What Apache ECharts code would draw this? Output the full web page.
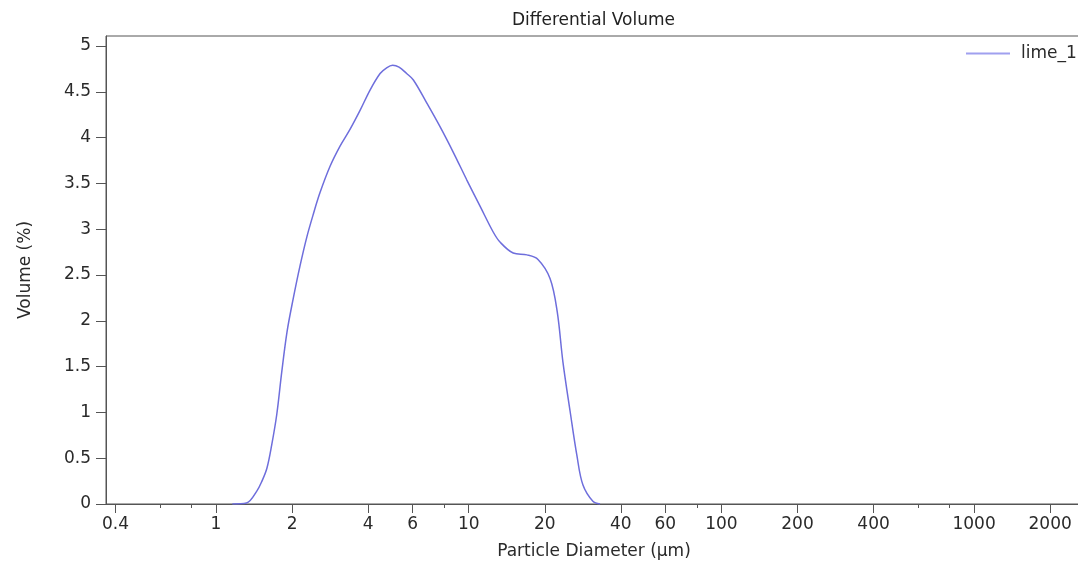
<!DOCTYPE html>
<html>
<head>
<meta charset="utf-8">
<script src="https://cdn.jsdelivr.net/npm/echarts@6/dist/echarts.min.js"></script>
<style>
html,body{margin:0;padding:0;background:#fff;overflow:hidden;width:1078px;height:565px;}
#chart{width:1090px;height:565px;}
</style>
</head>
<body>
<div id="chart"></div>
<script>
// Data
const seriesName = 'lime_1';
const diameters = [1.16, 1.32, 1.45, 1.52, 1.59, 1.66, 1.74, 1.82, 1.91, 2.02, 2.15, 2.29, 2.43, 2.58, 2.83, 3.10, 3.39, 3.72, 4.07, 4.46, 4.72, 5.00, 5.30, 5.68, 6.04, 6.82, 7.70, 8.69, 9.82, 11.1, 12.5, 13.3, 15.0, 17.0, 18.8, 21.0, 22.4, 23.6, 25.2, 26.8, 28.3, 31.0, 33.1];
const volumes   = [0.00, 0.01, 0.14, 0.25, 0.39, 0.64, 0.98, 1.44, 1.88, 2.24, 2.60, 2.92, 3.17, 3.40, 3.69, 3.91, 4.09, 4.30, 4.52, 4.70, 4.76, 4.79, 4.77, 4.70, 4.63, 4.38, 4.12, 3.84, 3.54, 3.25, 2.97, 2.86, 2.74, 2.72, 2.67, 2.46, 2.10, 1.55, 1.01, 0.53, 0.21, 0.03, 0.00];
const xTickLabels = [0.4, 1, 2, 4, 6, 10, 20, 40, 60, 100, 200, 400, 1000, 2000];
const xMinorTicks = [0.6, 0.8, 8, 80, 600, 800];
const yTickLabels = [0, 0.5, 1, 1.5, 2, 2.5, 3, 3.5, 4, 4.5, 5];
const xMin = 0.367, xMax = 2673;
const yMin = 0, yMax = 5.11;

const font = 'DejaVu Sans, Verdana, sans-serif';
const fontSize = 17;
const textColor = '#2a2a2a';
const axisColor = '#555';
const lineColor = '#6e6edc';

const chart = echarts.init(document.getElementById('chart'), null, {renderer: 'canvas'});
const points = diameters.map((d, i) => [d, volumes[i]]);

chart.setOption({
  animation: false,
  backgroundColor: '#fff',
  title: {
    text: 'Differential Volume',
    left: 512,
    top: 12,
    padding: 0,
    textStyle: {fontFamily: font, fontSize: fontSize, fontWeight: 'normal', color: '#222'}
  },
  legend: {
    left: 966,
    top: 45,
    padding: 0,
    icon: 'rect',
    itemWidth: 44,
    itemHeight: 2,
    data: [{name: seriesName, itemStyle: {color: '#a0a0ef'}}],
    textStyle: {fontFamily: font, fontSize: fontSize, color: textColor, padding: [0, 0, 0, 6]}
  },
  grid: {
    left: 106, right: 8, top: 36, bottom: 59,
    show: true, borderColor: axisColor, borderWidth: 1, backgroundColor: 'transparent'
  },
  xAxis: [{
    type: 'log',
    logBase: 10,
    min: xMin,
    max: xMax,
    name: 'Particle Diameter (\u00b5m)',
    nameLocation: 'middle',
    nameGap: 39,
    nameTextStyle: {fontFamily: font, fontSize: fontSize, color: textColor},
    axisLine: {show: true, onZero: false, lineStyle: {color: axisColor, width: 1}},
    axisTick: {show: true, length: 9, customValues: xTickLabels, lineStyle: {color: axisColor}},
    axisLabel: {show: true, customValues: xTickLabels, margin: 12, fontFamily: font, fontSize: fontSize, color: textColor,
      formatter: v => String(+(+v).toPrecision(6))},
    splitLine: {show: false},
    minorTick: {show: false}
  }, {
    type: 'log',
    logBase: 10,
    min: xMin,
    max: xMax,
    position: 'bottom',
    axisLine: {show: false},
    axisTick: {show: true, length: 4, customValues: xMinorTicks, lineStyle: {color: axisColor}},
    axisLabel: {show: false},
    splitLine: {show: false}
  }],
  yAxis: {
    type: 'value',
    min: yMin,
    max: yMax,
    name: 'Volume (%)',
    nameLocation: 'middle',
    nameGap: 72,
    nameTextStyle: {fontFamily: font, fontSize: fontSize, color: textColor},
    axisLine: {show: true, lineStyle: {color: axisColor, width: 1}},
    axisTick: {show: true, length: 10, customValues: yTickLabels, lineStyle: {color: axisColor}},
    axisLabel: {margin: 15, customValues: yTickLabels, fontFamily: font, fontSize: fontSize, color: textColor,
      formatter: v => String(+(+v).toPrecision(6))},
    splitLine: {show: false}
  },
  series: [{
    name: seriesName,
    type: 'line',
    xAxisIndex: 0,
    data: points,
    smooth: 0.35,
    showSymbol: false,
    lineStyle: {color: lineColor, width: 1.5},
    itemStyle: {color: lineColor}
  }]
});
</script>
</body>
</html>
